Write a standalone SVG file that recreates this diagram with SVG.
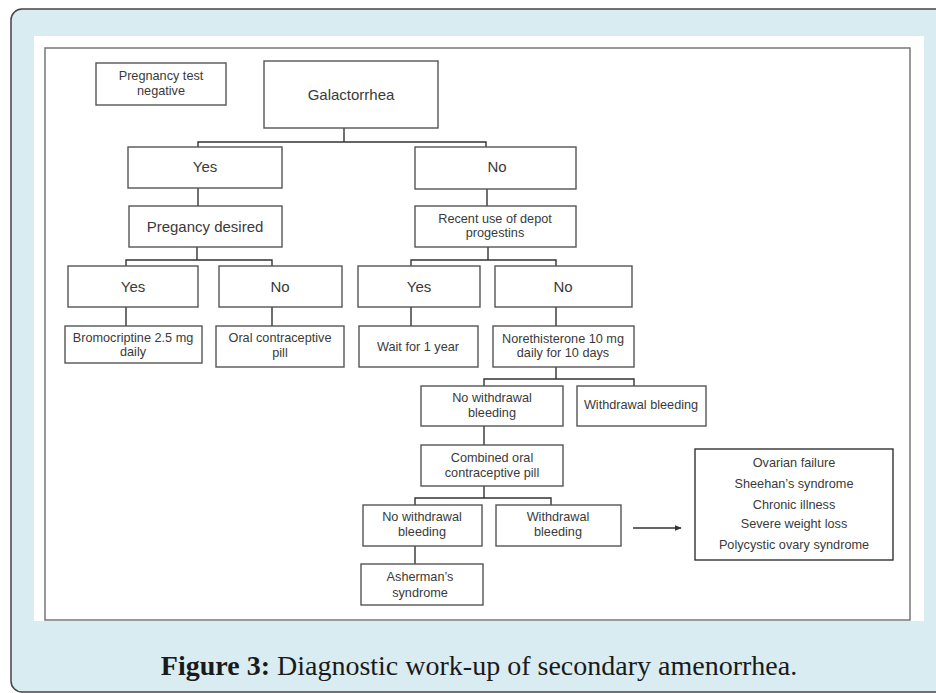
<svg xmlns="http://www.w3.org/2000/svg" width="936" height="693" viewBox="0 0 936 693">
<style>
.box{fill:#fff;stroke:#555;stroke-width:1.4}
.ln{fill:none;stroke:#333;stroke-width:1.4}
.t{font-family:"Liberation Sans",Arial,sans-serif;fill:#3a3a3a;text-anchor:middle}
.s{font-size:12.7px}
.b{font-size:15px}
</style>
<defs>
<marker id="ah" viewBox="0 0 10 10" refX="9" refY="5" markerWidth="7" markerHeight="7" markerUnits="userSpaceOnUse" orient="auto">
<path d="M0,1 L10,5 L0,9 z" fill="#333"/>
</marker>
</defs>
<rect x="11" y="9" width="940" height="683" rx="11" fill="#d9ecf1" stroke="#444" stroke-width="1.5"/>
<rect x="34" y="36" width="890" height="585" fill="#fff"/>
<rect x="45" y="48" width="865" height="572" fill="none" stroke="#777" stroke-width="1.5"/>

<g id="connectors">
<path class="ln" d="M344,128 V142 M198,147 V142 H486 V147"/>
<path class="ln" d="M198,188 V206"/>
<path class="ln" d="M487,189 V206"/>
<path class="ln" d="M197,247 V260 M126,266 V260 H272 V266"/>
<path class="ln" d="M126,307 V326 M272,307 V326"/>
<path class="ln" d="M488,247 V260 M411,266 V260 H556 V266"/>
<path class="ln" d="M411,307 V326 M556,307 V326"/>
<path class="ln" d="M556,367 V379 M484,386 V379 H634 V386"/>
<path class="ln" d="M484,426 V445"/>
<path class="ln" d="M484,486 V498 M415,505 V498 H551 V505"/>
<path class="ln" d="M415,546 V564"/>
<path class="ln" d="M633,528 H681" marker-end="url(#ah)"/>
</g>

<g id="n-pregtest"><rect class="box" x="96" y="63" width="130" height="42"/><text class="t s" x="161" y="80">Pregnancy test</text><text class="t s" x="161" y="95">negative</text></g>
<g id="n-galactorrhea"><rect class="box" x="264" y="61" width="174" height="67"/><text class="t b" x="351" y="100">Galactorrhea</text></g>
<g id="n-yes1"><rect class="box" x="128" y="147" width="154" height="41"/><text class="t b" x="205" y="172">Yes</text></g>
<g id="n-no1"><rect class="box" x="415" y="147" width="161" height="42"/><text class="t b" x="497" y="172">No</text></g>
<g id="n-pregdesired"><rect class="box" x="129" y="206" width="153" height="41"/><text class="t b" x="205" y="232">Pregancy desired</text></g>
<g id="n-recent"><rect class="box" x="415" y="206" width="161" height="41"/><text class="t s" x="495" y="223">Recent use of depot</text><text class="t s" x="495" y="237">progestins</text></g>
<g id="n-yes2"><rect class="box" x="68" y="266" width="130" height="41"/><text class="t b" x="133" y="292">Yes</text></g>
<g id="n-no2"><rect class="box" x="219" y="266" width="123" height="41"/><text class="t b" x="280" y="292">No</text></g>
<g id="n-yes3"><rect class="box" x="358" y="266" width="122" height="41"/><text class="t b" x="419" y="292">Yes</text></g>
<g id="n-no3"><rect class="box" x="495" y="266" width="137" height="41"/><text class="t b" x="563" y="292">No</text></g>
<g id="n-bromo"><rect class="box" x="65" y="326" width="137" height="37"/><text class="t s" x="133" y="342">Bromocriptine 2.5 mg</text><text class="t s" x="133" y="356">daily</text></g>
<g id="n-ocp"><rect class="box" x="216" y="326" width="128" height="41"/><text class="t s" x="280" y="342">Oral contraceptive</text><text class="t s" x="280" y="357">pill</text></g>
<g id="n-wait"><rect class="box" x="359" y="326" width="119" height="41"/><text class="t s" x="418" y="351">Wait for 1 year</text></g>
<g id="n-noreth"><rect class="box" x="493" y="326" width="141" height="41"/><text class="t s" x="563" y="343">Norethisterone 10 mg</text><text class="t s" x="563" y="357">daily for 10 days</text></g>
<g id="n-nowb1"><rect class="box" x="421" y="386" width="142" height="40"/><text class="t s" x="492" y="402">No withdrawal</text><text class="t s" x="492" y="417">bleeding</text></g>
<g id="n-wb1"><rect class="box" x="577" y="386" width="129" height="40"/><text class="t s" x="641" y="409">Withdrawal bleeding</text></g>
<g id="n-cocp"><rect class="box" x="421" y="445" width="142" height="41"/><text class="t s" x="492" y="462">Combined oral</text><text class="t s" x="492" y="477">contraceptive pill</text></g>
<g id="n-nowb2"><rect class="box" x="363" y="505" width="119" height="41"/><text class="t s" x="422" y="521">No withdrawal</text><text class="t s" x="422" y="536">bleeding</text></g>
<g id="n-wb2"><rect class="box" x="496" y="505" width="125" height="41"/><text class="t s" x="558" y="521">Withdrawal</text><text class="t s" x="558" y="536">bleeding</text></g>
<g id="n-asherman"><rect class="box" x="361" y="564" width="122" height="41"/><text class="t s" x="420" y="581">Asherman’s</text><text class="t s" x="420" y="597">syndrome</text></g>
<g id="n-causes"><rect class="box" x="695" y="449" width="198" height="111" style="stroke:#333"/>
<text class="t s" x="794" y="467">Ovarian failure</text>
<text class="t s" x="794" y="488">Sheehan’s syndrome</text>
<text class="t s" x="794" y="509">Chronic illness</text>
<text class="t s" x="794" y="528">Severe weight loss</text>
<text class="t s" x="794" y="549">Polycystic ovary syndrome</text></g>

<text x="479" y="675" text-anchor="middle" font-family="Liberation Serif,'Times New Roman',serif" font-size="28" fill="#1a1a1a"><tspan font-weight="bold">Figure 3:</tspan> Diagnostic work-up of secondary amenorrhea.</text>
</svg>
